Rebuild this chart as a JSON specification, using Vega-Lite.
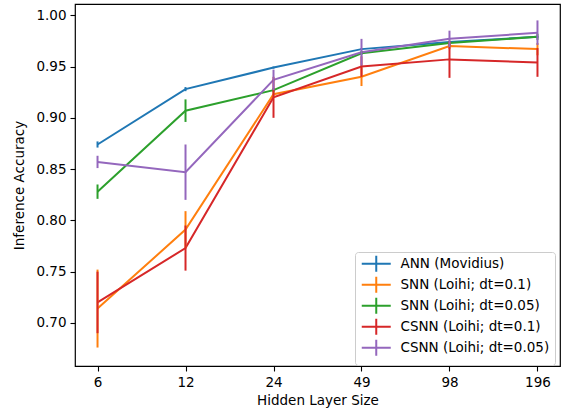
{
  "$schema": "https://vega.github.io/schema/vega-lite/v6.json",
  "width": 485,
  "height": 362,
  "autosize": {"type": "none"},
  "padding": {"left": 75, "top": 4, "right": 2, "bottom": 44},
  "config": {
    "font": "DejaVu Sans",
    "view": {"stroke": "#000000", "strokeWidth": 1.2},
    "axis": {
      "grid": false, "domain": false, "tickColor": "#000000", "tickSize": 5, "tickWidth": 1.1,
      "labelFont": "DejaVu Sans", "labelFontSize": 13.5, "labelColor": "#000000",
      "titleFont": "DejaVu Sans", "titleFontSize": 13.5, "titleFontWeight": "normal", "titleColor": "#000000"
    }
  },
  "data": {"values": [
    {"size": "6", "model": "ANN (Movidius)", "acc": 0.874, "lo": 0.871, "hi": 0.877},
    {"size": "12", "model": "ANN (Movidius)", "acc": 0.928, "lo": 0.926, "hi": 0.930},
    {"size": "24", "model": "ANN (Movidius)", "acc": 0.949, "lo": 0.948, "hi": 0.950},
    {"size": "49", "model": "ANN (Movidius)", "acc": 0.967, "lo": 0.966, "hi": 0.968},
    {"size": "98", "model": "ANN (Movidius)", "acc": 0.974, "lo": 0.973, "hi": 0.975},
    {"size": "196", "model": "ANN (Movidius)", "acc": 0.979, "lo": 0.978, "hi": 0.980},
    {"size": "6", "model": "SNN (Loihi; dt=0.1)", "acc": 0.714, "lo": 0.676, "hi": 0.752},
    {"size": "12", "model": "SNN (Loihi; dt=0.1)", "acc": 0.791, "lo": 0.773, "hi": 0.809},
    {"size": "24", "model": "SNN (Loihi; dt=0.1)", "acc": 0.923, "lo": 0.920, "hi": 0.926},
    {"size": "49", "model": "SNN (Loihi; dt=0.1)", "acc": 0.940, "lo": 0.931, "hi": 0.949},
    {"size": "98", "model": "SNN (Loihi; dt=0.1)", "acc": 0.970, "lo": 0.967, "hi": 0.973},
    {"size": "196", "model": "SNN (Loihi; dt=0.1)", "acc": 0.967, "lo": 0.961, "hi": 0.973},
    {"size": "6", "model": "SNN (Loihi; dt=0.05)", "acc": 0.828, "lo": 0.821, "hi": 0.835},
    {"size": "12", "model": "SNN (Loihi; dt=0.05)", "acc": 0.907, "lo": 0.896, "hi": 0.918},
    {"size": "24", "model": "SNN (Loihi; dt=0.05)", "acc": 0.927, "lo": 0.925, "hi": 0.929},
    {"size": "49", "model": "SNN (Loihi; dt=0.05)", "acc": 0.963, "lo": 0.961, "hi": 0.965},
    {"size": "98", "model": "SNN (Loihi; dt=0.05)", "acc": 0.973, "lo": 0.971, "hi": 0.975},
    {"size": "196", "model": "SNN (Loihi; dt=0.05)", "acc": 0.979, "lo": 0.976, "hi": 0.982},
    {"size": "6", "model": "CSNN (Loihi; dt=0.1)", "acc": 0.720, "lo": 0.690, "hi": 0.750},
    {"size": "12", "model": "CSNN (Loihi; dt=0.1)", "acc": 0.773, "lo": 0.751, "hi": 0.795},
    {"size": "24", "model": "CSNN (Loihi; dt=0.1)", "acc": 0.920, "lo": 0.900, "hi": 0.940},
    {"size": "49", "model": "CSNN (Loihi; dt=0.1)", "acc": 0.950, "lo": 0.940, "hi": 0.960},
    {"size": "98", "model": "CSNN (Loihi; dt=0.1)", "acc": 0.957, "lo": 0.939, "hi": 0.975},
    {"size": "196", "model": "CSNN (Loihi; dt=0.1)", "acc": 0.954, "lo": 0.940, "hi": 0.968},
    {"size": "6", "model": "CSNN (Loihi; dt=0.05)", "acc": 0.857, "lo": 0.851, "hi": 0.863},
    {"size": "12", "model": "CSNN (Loihi; dt=0.05)", "acc": 0.847, "lo": 0.820, "hi": 0.874},
    {"size": "24", "model": "CSNN (Loihi; dt=0.05)", "acc": 0.937, "lo": 0.927, "hi": 0.947},
    {"size": "49", "model": "CSNN (Loihi; dt=0.05)", "acc": 0.964, "lo": 0.951, "hi": 0.977},
    {"size": "98", "model": "CSNN (Loihi; dt=0.05)", "acc": 0.977, "lo": 0.969, "hi": 0.985},
    {"size": "196", "model": "CSNN (Loihi; dt=0.05)", "acc": 0.983, "lo": 0.971, "hi": 0.995}
  ]},
  "encoding": {
    "x": {
      "field": "size", "type": "ordinal",
      "sort": ["6", "12", "24", "49", "98", "196"],
      "scale": {"type": "point", "padding": 0.256},
      "axis": {"title": "Hidden Layer Size", "labelAngle": 0, "labelPadding": 4, "titlePadding": 5}
    },
    "color": {
      "field": "model", "type": "nominal",
      "scale": {
        "domain": ["ANN (Movidius)", "SNN (Loihi; dt=0.1)", "SNN (Loihi; dt=0.05)", "CSNN (Loihi; dt=0.1)", "CSNN (Loihi; dt=0.05)"],
        "range": ["#1f77b4", "#ff7f0e", "#2ca02c", "#d62728", "#9467bd"]
      },
      "legend": {
        "title": null,
        "orient": "none",
        "legendX": 280,
        "legendY": 248,
        "padding": 5,
        "fillColor": "#ffffff",
        "strokeColor": "#cccccc",
        "cornerRadius": 3,
        "symbolType": "M-1.25,0H6M2.375,-2V2",
        "symbolSize": 64,
        "symbolStrokeWidth": 2,
        "labelFont": "DejaVu Sans",
        "labelFontSize": 13.5,
        "labelColor": "#000000",
        "labelOffset": 27,
        "rowPadding": -4
      }
    }
  },
  "layer": [
    {
      "mark": {"type": "line", "strokeWidth": 2},
      "encoding": {
        "y": {
          "field": "acc", "type": "quantitative",
          "scale": {"domain": [0.658, 1.011], "nice": false, "zero": false},
          "axis": {"title": "Inference Accuracy", "values": [0.70, 0.75, 0.80, 0.85, 0.90, 0.95, 1.00], "format": ".2f", "labelPadding": 4, "titlePadding": 9}
        }
      }
    },
    {
      "mark": {"type": "rule", "strokeWidth": 2},
      "encoding": {
        "y": {"field": "lo", "type": "quantitative"},
        "y2": {"field": "hi"}
      }
    }
  ]
}
